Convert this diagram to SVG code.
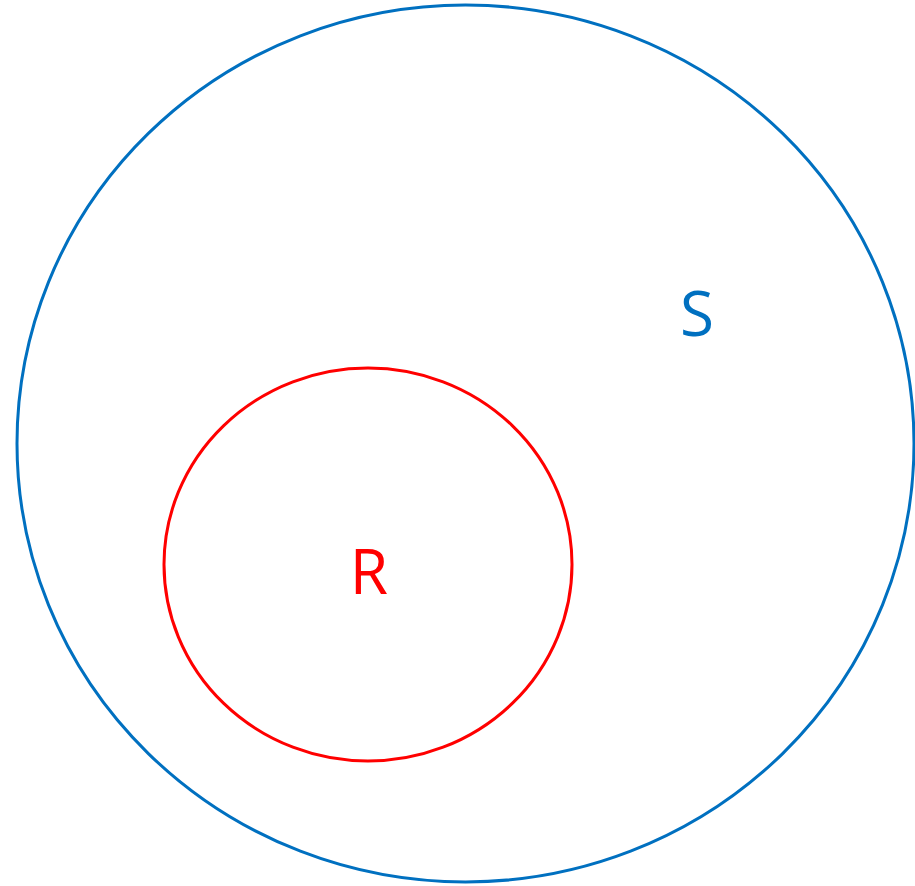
<svg xmlns="http://www.w3.org/2000/svg" width="915" height="886" viewBox="0 0 915 886">
<style>
.lbl{font-family:"Open Sans","Noto Sans","Liberation Sans",sans-serif;font-size:62px;text-anchor:middle}
.ring{fill:none;stroke-width:3}
</style>
<rect width="915" height="886" fill="#fff"/>
<g id="S">
<ellipse class="ring" cx="465.5" cy="443.5" rx="448.5" ry="438.5" stroke="#0070C0"/>
<text class="lbl" x="697" y="336" fill="#0070C0">S</text>
</g>
<g id="R">
<ellipse class="ring" cx="368" cy="564.5" rx="204" ry="196.5" stroke="#FF0000"/>
<text class="lbl" x="369" y="594" fill="#FF0000">R</text>
</g>
<g id="connectors"/>
</svg>
